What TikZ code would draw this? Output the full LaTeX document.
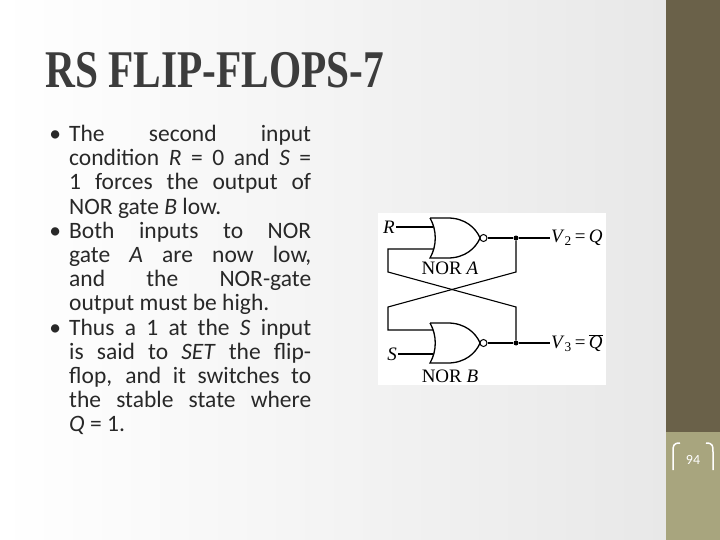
\documentclass[tikz,border=0pt]{standalone}
\usepackage{fontspec}
\setmainfont{Carlito}
\newfontfamily\titlefont{Liberation Serif}
\newfontfamily\circfont{Liberation Serif}
\usetikzlibrary{shadings}
\definecolor{bardark}{RGB}{106,97,73}
\definecolor{barlight}{RGB}{168,165,126}
\definecolor{titlec}{RGB}{60,60,60}
\definecolor{textc}{RGB}{40,40,40}
\newcommand{\bul}{\leavevmode\llap{\textbullet\hspace{8pt}}}
\newcommand{\nl}{\linebreak}
\begin{document}
\begin{tikzpicture}[x=1pt,y=-1pt,
  wire/.style={line width=1.1pt,black},
  gate/.style={line width=1.3pt,black},
  dotc/.style={circle,fill=black,inner sep=0pt,minimum size=5pt},
  clab/.style={font=\circfont\fontsize{19}{19}\selectfont,inner sep=1pt},
  body/.style={font=\fontsize{23.5}{24.2}\selectfont,text=textc,align=justify,text width=262pt,anchor=north west,inner sep=0pt}]
\useasboundingbox (0,0) rectangle (720,540);
\shade[left color=white,right color=black!9] (0,0) rectangle (666,540);
\fill[bardark] (666,0) rectangle (720,432);
\fill[barlight] (666,432) rectangle (720,540);
\node[anchor=base west,inner sep=0pt,font=\titlefont\bfseries\fontsize{53}{53}\selectfont,text=titlec,xscale=0.78] (title) at (45,88) {RS FLIP-FLOPS-7};
% body text
\node[body] (txt) at (49,125) {%
\leftskip=20pt\parindent=0pt\hyphenpenalty=10000\emergencystretch=20pt
\bul The second input\nl condition \textit{R} = 0 and \textit{S} =\nl 1 forces the output of\nl NOR gate \textit{B} low.\par
\bul Both inputs to NOR\nl gate \textit{A} are now low,\nl and the NOR-gate\nl output must be high.\par
\bul Thus a 1 at the \textit{S} input\nl is said to \textit{SET} the flip-\nl flop, and it switches to\nl the stable state where\nl \textit{Q} = 1.\par};
% circuit background
\fill[white] (378,213) rectangle (606,385);
% gate A
\draw[gate] (430,218) -- (448,218) .. controls (465,218) and (476,228) .. (480,238)
  .. controls (476,248) and (465,258) .. (448,258) -- (430,258) .. controls (437,246) and (437,230) .. (430,218);
\node[circle,draw,line width=1pt,inner sep=0pt,minimum size=7pt,fill=white] (bA) at (483.5,238) {};
% gate B
\draw[gate] (430,323) -- (448,323) .. controls (465,323) and (476,333) .. (480,343)
  .. controls (476,353) and (465,363) .. (448,363) -- (430,363) .. controls (437,351) and (437,335) .. (430,323);
\node[circle,draw,line width=1pt,inner sep=0pt,minimum size=7pt,fill=white] (bB) at (483.5,343) {};
\node[dotc] (dA) at (516,238) {};
\node[dotc] (dB) at (516,343) {};
\coordinate (rin) at (396,227);
\coordinate (sin) at (398,354);
\coordinate (oA) at (550,238);
\coordinate (oB) at (550,343);
\draw[wire] (rin) -- (433,227);
\draw[wire] (sin) -- (433,354);
\draw[wire] (bA) -- (dA) -- (oA);
\draw[wire] (bB) -- (dB) -- (oB);
\draw[wire] (dA) -- (516,272) -- (388,307) -- (388,330) -- (433,330);
\draw[wire] (dB) -- (516,307) -- (388,272) -- (388,249) -- (433,249);
\node[clab,anchor=east] (lR) at (rin) {\textit{R}};
\node[clab,anchor=east] (lS) at (sin) {\textit{S}};
\node[clab,anchor=west] (lQ) at (oA) {\textit{V}\textsubscript{2}\,=\,\textit{Q}};
\node[clab,anchor=west] (lQb) at (oB) {\textit{V}\textsubscript{3}\,=\,$\overline{\mbox{\textit{Q}}}$};
\node[clab] (nA) at (450,268) {NOR \textit{A}};
\node[clab] (nB) at (450,376) {NOR \textit{B}};
% page number
\draw[white,line width=1.5pt] (680,443) .. controls (673,443) and (673,446) .. (673,452) -- (673,470);
\draw[white,line width=1.5pt] (706,443) .. controls (713,443) and (713,446) .. (713,452) -- (713,470);
\node[text=white,font=\fontsize{14}{14}\selectfont] (pg) at (693,460) {94};
\end{tikzpicture}
\end{document}
